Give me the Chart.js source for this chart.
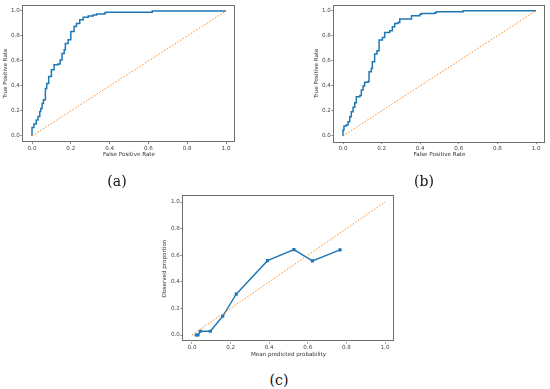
<!DOCTYPE html>
<html>
<head>
<meta charset="utf-8">
<script src="https://cdn.jsdelivr.net/npm/chart.js@4.4.1/dist/chart.umd.min.js"></script>
<style>
  html, body { margin: 0; padding: 0; background: #fff; }
  body { width: 550px; height: 389px; position: relative; overflow: hidden; }
  .panel { position: absolute; }
  .cap {
    position: absolute;
    font-family: "DejaVu Serif", serif;
    font-size: 14px;
    line-height: 1;
    color: #111;
    transform: translate(-50%, -50%);
  }
</style>
</head>
<body>
<div class="panel" style="left:0;top:0;width:275px;height:175px"><canvas id="rocA"></canvas></div>
<div class="panel" style="left:275px;top:0;width:275px;height:175px"><canvas id="rocB"></canvas></div>
<div class="panel" style="left:140px;top:180px;width:270px;height:190px"><canvas id="calib"></canvas></div>
<div class="cap" style="left:117px;top:181px">(a)</div>
<div class="cap" style="left:424px;top:181px">(b)</div>
<div class="cap" style="left:279px;top:380px">(c)</div>

<script>
  // values
  const axisTicks = [0, 0.2, 0.4, 0.6, 0.8, 1.0];
  const diagX = [0, 1];
  const diagY = [0, 1];

  const rocA_fpr = [0, 0, 0.010, 0.022, 0.031, 0.040, 0.045, 0.052, 0.059, 0.069, 0.076, 0.086, 0.100, 0.114, 0.134, 0.145, 0.155, 0.166, 0.172, 0.186, 0.200, 0.217, 0.229, 0.246, 0.264, 0.290, 0.315, 0.333, 0.376, 0.385, 0.620, 0.620, 1.0];
  const rocA_tpr = [0, 0.067, 0.096, 0.128, 0.155, 0.195, 0.220, 0.260, 0.290, 0.380, 0.420, 0.475, 0.530, 0.570, 0.576, 0.608, 0.660, 0.690, 0.740, 0.770, 0.835, 0.875, 0.900, 0.930, 0.950, 0.960, 0.968, 0.976, 0.987, 0.990, 0.990, 1.0, 1.0];

  const rocB_fpr = [0, 0, 0.005, 0.017, 0.026, 0.035, 0.043, 0.052, 0.061, 0.069, 0.087, 0.095, 0.104, 0.112, 0.130, 0.135, 0.147, 0.152, 0.164, 0.176, 0.187, 0.204, 0.216, 0.242, 0.256, 0.268, 0.285, 0.294, 0.355, 0.355, 0.398, 0.407, 0.476, 0.484, 0.623, 0.623, 1.0];
  const rocB_tpr = [0, 0.048, 0.080, 0.088, 0.114, 0.154, 0.194, 0.229, 0.266, 0.314, 0.324, 0.367, 0.399, 0.428, 0.434, 0.513, 0.540, 0.593, 0.654, 0.681, 0.766, 0.787, 0.827, 0.840, 0.872, 0.899, 0.907, 0.934, 0.934, 0.960, 0.973, 0.979, 0.984, 0.992, 0.992, 1.0, 1.0];

  const calibPred = [0.022, 0.031, 0.043, 0.095, 0.159, 0.229, 0.391, 0.528, 0.624, 0.767];
  const calibObs = [0.0, 0.0, 0.028, 0.028, 0.141, 0.307, 0.559, 0.642, 0.557, 0.640];

  const BLUE = "#1f77b4";
  const ORANGE = "#ff7f0e";
  const SPINE = "#6e6e6e";
  const FS = 5.6;

  Chart.defaults.font.family = "'DejaVu Sans', sans-serif";
  Chart.defaults.font.size = FS;
  Chart.defaults.animation = false;

  function toPoints(xs, ys) {
    return xs.map(function (x, i) { return { x: x, y: ys[i] }; });
  }

  const frame = {
    id: "frame",
    afterDraw: function (chart) {
      const a = chart.chartArea;
      const ctx = chart.ctx;
      ctx.save();
      ctx.strokeStyle = SPINE;
      ctx.lineWidth = 1;
      ctx.strokeRect(Math.round(a.left) + 0.5, Math.round(a.top) + 0.5,
        Math.round(a.right - a.left) - 1, Math.round(a.bottom - a.top) - 1);
      ctx.restore();
    }
  };

  function axis(title, size, isX) {
    const cfg = {
      type: "linear",
      min: -0.05,
      max: 1.05,
      afterBuildTicks: function (s) { s.ticks = axisTicks.map(function (v) { return { value: v }; }); },
      ticks: {
        color: "#444",
        padding: isX ? 1 : 0.5,
        autoSkip: false,
        maxRotation: 0,
        callback: function (v) { return Number(v).toFixed(1); }
      },
      grid: { drawOnChartArea: false, drawTicks: true, tickLength: 2, color: SPINE, lineWidth: 0.8 },
      border: { display: false },
      title: { display: true, text: title, color: "#333", padding: 0, font: { size: FS } }
    };
    cfg.afterFit = function (s) {
      if (isX) s.height = size; else s.width = size;
    };
    return cfg;
  }

  function makePanel(id, datasets, xTitle, yTitle, pad, yWidth, xHeight) {
    return new Chart(document.getElementById(id), {
      type: "scatter",
      data: { datasets: datasets },
      options: {
        responsive: true,
        maintainAspectRatio: false,
        layout: { padding: pad },
        plugins: { legend: { display: false }, tooltip: { enabled: false } },
        scales: {
          x: axis(xTitle, xHeight, true),
          y: axis(yTitle, yWidth, false)
        }
      },
      plugins: [frame]
    });
  }

  function diagonal() {
    return {
      data: toPoints(diagX, diagY),
      showLine: true,
      borderColor: ORANGE,
      borderWidth: 0.9,
      borderDash: [1.6, 1.6],
      pointRadius: 0,
      order: 1
    };
  }

  function rocLine(xs, ys) {
    return {
      data: toPoints(xs, ys),
      showLine: true,
      stepped: "before",
      borderColor: BLUE,
      borderWidth: 1.5,
      pointRadius: 0,
      order: 2
    };
  }

  makePanel("rocA", [rocLine(rocA_fpr, rocA_tpr), diagonal()],
    "False Positive Rate", "True Positive Rate",
    { left: 2.2, right: 39.3, top: 4.75, bottom: 16.6 }, 20.1, 16.2);

  makePanel("rocB", [rocLine(rocB_fpr, rocB_tpr), diagonal()],
    "False Positive Rate", "True Positive Rate",
    { left: 38.6, right: 4.35, top: 4.5, bottom: 16.6 }, 19.75, 16.2);

  makePanel("calib", [
    {
      data: toPoints(calibPred, calibObs),
      showLine: true,
      borderColor: BLUE,
      backgroundColor: BLUE,
      borderWidth: 1.4,
      pointStyle: "rect",
      pointRadius: 2.2,
      pointBorderWidth: 0,
      order: 2
    },
    diagonal()
  ], "Mean predicted probability", "Observed proportion",
    { left: 21.2, right: 15.35, top: 15.35, bottom: 11.9 }, 21.15, 16.45);
</script>
</body>
</html>
